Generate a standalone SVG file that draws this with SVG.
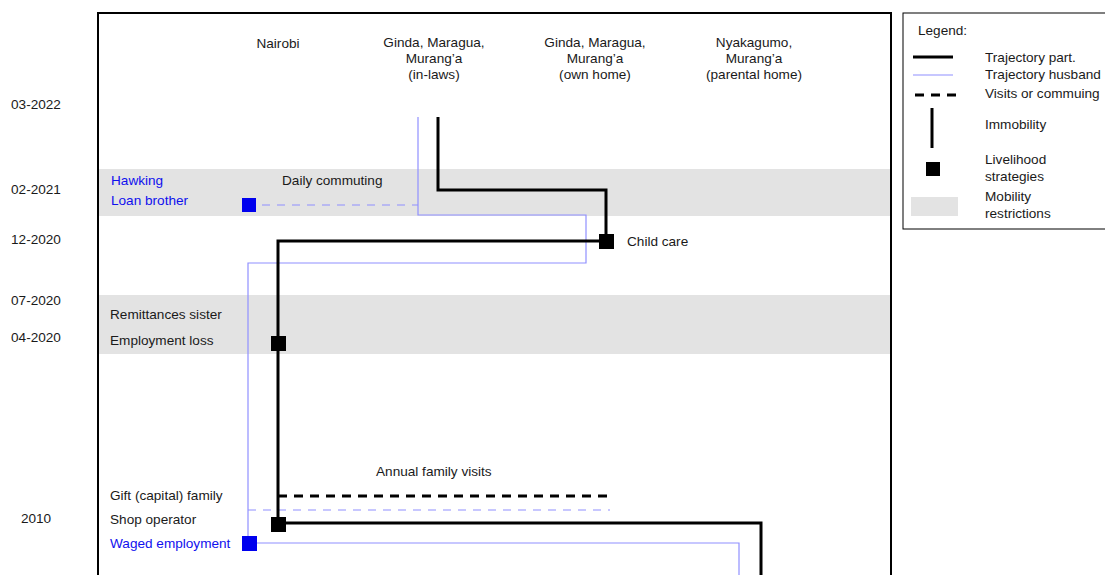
<svg xmlns="http://www.w3.org/2000/svg" width="1105" height="575" viewBox="0 0 1105 575">
<style>
text{font-family:"Liberation Sans",Arial,sans-serif;font-size:13.6px;fill:#1a1a1a}
.c{text-anchor:middle}
.b{fill:#1010ee}
.band{fill:#e3e3e3}
.part{fill:none;stroke:#000;stroke-width:3}
.hus{fill:none;stroke:#9090ff;stroke-width:1.2}
.pdash{fill:none;stroke:#000;stroke-width:3;stroke-dasharray:9,7}
.hdash{fill:none;stroke:#9090ff;stroke-width:1.2;stroke-dasharray:8,7}
.sq{fill:#000}
.bsq{fill:#0000ee}
</style>
<rect width="1105" height="575" fill="#fff"/>
<g id="bands">
<rect class="band" x="99" y="169" width="791" height="47"/>
<rect class="band" x="99" y="295" width="791" height="59"/>
</g>
<rect id="frame" x="98" y="13" width="793" height="570" fill="none" stroke="#000" stroke-width="2"/>
<g id="columns">
<text class="c" x="278" y="48">Nairobi</text>
<text class="c" x="434" y="47">Ginda, Maragua,</text>
<text class="c" x="434" y="63">Murang’a</text>
<text class="c" x="434" y="79">(in-laws)</text>
<text class="c" x="595" y="47">Ginda, Maragua,</text>
<text class="c" x="595" y="63">Murang’a</text>
<text class="c" x="595" y="79">(own home)</text>
<text class="c" x="754" y="47">Nyakagumo,</text>
<text class="c" x="754" y="63">Murang’a</text>
<text class="c" x="754" y="79">(parental home)</text>
</g>
<g id="dates">
<text class="c" x="36" y="109">03-2022</text>
<text class="c" x="36" y="194">02-2021</text>
<text class="c" x="36" y="244">12-2020</text>
<text class="c" x="36" y="305">07-2020</text>
<text class="c" x="36" y="342">04-2020</text>
<text class="c" x="36" y="523">2010</text>
</g>
<g id="connectors">
<polyline class="hus" points="418,117 418,215 586,215 586,263 248,263 248,543 739,543 739,580"/>
<line class="hdash" x1="262" y1="205" x2="418" y2="205"/>
<line class="hdash" x1="248" y1="510" x2="610" y2="510"/>
<polyline class="part" points="438,117 438,190 606,190 606,241"/>
<polyline class="part" points="606,241 278,241 278,523 761,523 761,580"/>
<line class="pdash" x1="278" y1="496" x2="610" y2="496"/>
</g>
<g id="node-hawking"><text class="b" x="111" y="185">Hawking</text></g>
<g id="node-loan"><text class="b" x="111" y="205">Loan brother</text><rect class="bsq" x="242" y="198" width="14" height="14"/></g>
<g id="node-commuting"><text x="282" y="185">Daily commuting</text></g>
<g id="node-childcare"><rect class="sq" x="599" y="234" width="15" height="15"/><text x="627" y="246">Child care</text></g>
<g id="node-remit"><text x="110" y="319">Remittances sister</text></g>
<g id="node-emploss"><text x="110" y="345">Employment loss</text><rect class="sq" x="271" y="336" width="15" height="15"/></g>
<g id="node-visits"><text x="376" y="476">Annual family visits</text></g>
<g id="node-gift"><text x="110" y="500">Gift (capital) family</text></g>
<g id="node-shop"><text x="110" y="524">Shop operator</text><rect class="sq" x="271" y="517" width="15" height="15"/></g>
<g id="node-waged"><text class="b" x="110" y="548">Waged employment</text><rect class="bsq" x="242" y="536" width="15" height="15"/></g>
<g id="legend">
<rect x="903" y="13" width="210" height="216" fill="#fff" stroke="#000" stroke-width="1"/>
<text x="918" y="35">Legend:</text>
<line x1="913" y1="57" x2="953" y2="57" stroke="#000" stroke-width="3"/>
<line x1="913" y1="75" x2="953" y2="75" stroke="#9090ff" stroke-width="1.2"/>
<line x1="915" y1="95" x2="960" y2="95" class="pdash" stroke-dasharray="8,7"/>
<line x1="932" y1="108" x2="932" y2="148" stroke="#000" stroke-width="3"/>
<rect class="sq" x="926" y="162" width="14" height="14"/>
<rect class="band" x="911" y="197" width="47" height="19"/>
<text x="985" y="62">Trajectory part.</text>
<text x="985" y="79">Trajectory husband</text>
<text x="985" y="98">Visits or commuing</text>
<text x="985" y="129">Immobility</text>
<text x="985" y="164">Livelihood</text>
<text x="985" y="181">strategies</text>
<text x="985" y="201">Mobility</text>
<text x="985" y="218">restrictions</text>
</g>
</svg>
